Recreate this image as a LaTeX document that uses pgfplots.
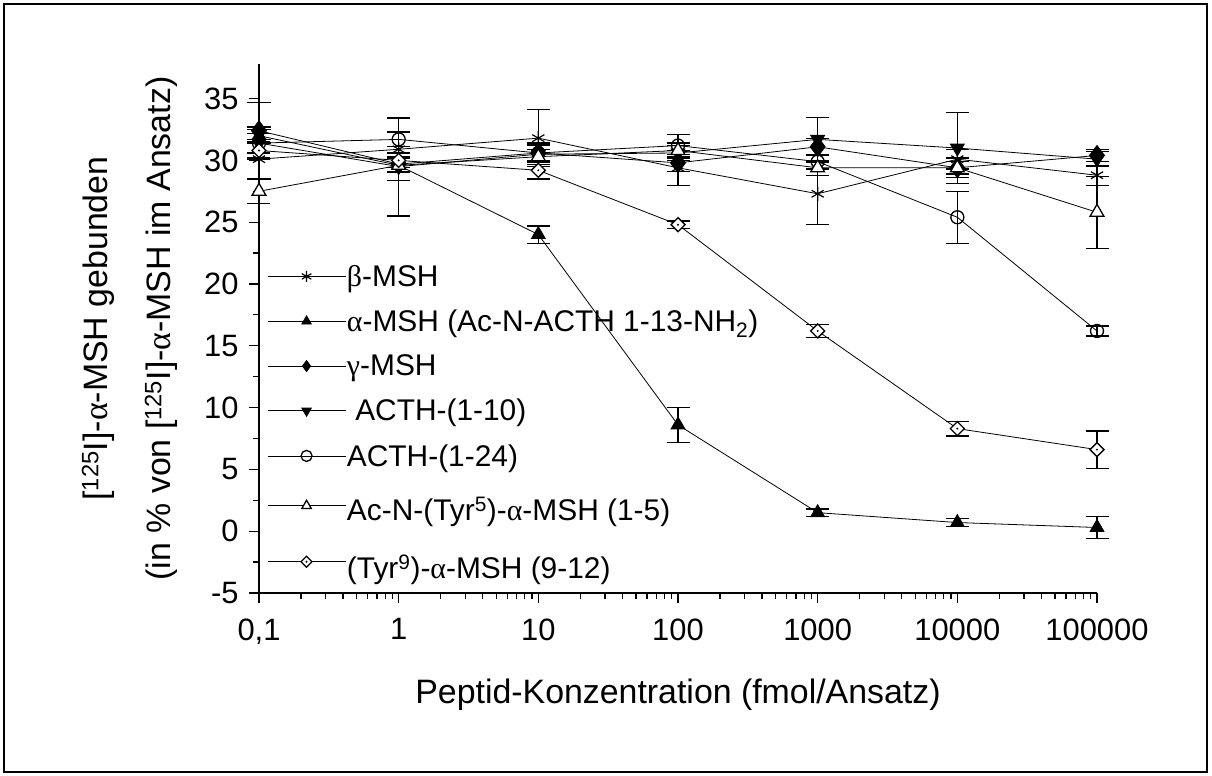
\documentclass[border=0pt]{standalone}
\usepackage{fontspec}
\setmainfont{Liberation Sans}
\newfontfamily\gr{Liberation Serif}
\usepackage{pgfplots}
\pgfplotsset{compat=1.18}
\pgfdeclareplotmark{ddia}{%
  \pgfpathmoveto{\pgfqpoint{0pt}{\pgfplotmarksize}}%
  \pgfpathlineto{\pgfqpoint{\pgfplotmarksize}{0pt}}%
  \pgfpathlineto{\pgfqpoint{0pt}{-\pgfplotmarksize}}%
  \pgfpathlineto{\pgfqpoint{-\pgfplotmarksize}{0pt}}%
  \pgfpathclose\pgfusepathqfillstroke
  \begin{pgfscope}%
  \pgfsetfillcolor{black}%
  \pgfpathcircle{\pgfpointorigin}{1.1pt}\pgfusepathqfill
  \end{pgfscope}}
\newcommand{\al}{{\gr α}}
\begin{document}
\begin{tikzpicture}
\useasboundingbox (0,0) rectangle (1212bp,776bp);
\draw[line width=1.5bp] (4bp,4bp) rectangle (1207bp,772bp);
\begin{axis}[
  at={(259bp,183bp)}, anchor=south west,
  scale only axis, width=838bp, height=529bp,
  xmode=log, xmin=0.1, xmax=100000,
  ymin=-5, ymax=37.8,
  axis x line*=bottom, axis y line*=left,
  axis line style={line width=1.6bp},
  tick align=outside,
  major tick length=10bp, minor tick length=6bp,
  every tick/.style={line width=1.2bp, black},
  xtick={0.1,1,10,100,1000,10000,100000},
  xticklabels={{0,1},1,10,100,1000,10000,100000},
  ytick={-5,0,5,10,15,20,25,30,35},
  yticklabels={-5,0,5,10,15,20,25,30,35},
  minor y tick num=1,
  ticklabel style={font=\fontsize{31}{35}\selectfont},
  xticklabel style={yshift=-12bp},
  yticklabel style={xshift=-7bp},
  label style={font=\fontsize{34}{63}\selectfont},
  xlabel={Peptid-Konzentration (fmol/Ansatz)},
  ylabel={[\textsuperscript{125}I]-\al-MSH gebunden\\(in \% von [\textsuperscript{125}I]-\al-MSH im Ansatz)},
  ylabel style={align=center, yshift=20bp},
  xlabel style={yshift=-28bp},
  clip=false,
  every axis plot/.append style={black, line width=0.8bp, mark size=8bp,
     error bars/y dir=both, error bars/y explicit,
     error bars/error bar style={line width=1.2bp},
     error bars/error mark options={rotate=90, mark size=11.5bp, line width=1.2bp}},
  legend style={draw=none, fill=none, at={(0.0095,0.622)}, anchor=north west,
     font=\fontsize{30}{34}\selectfont, row sep=20bp, inner sep=0pt,
     nodes={inner sep=1bp}},
  legend cell align=left,
  legend image code/.code={\draw[mark repeat=2,mark phase=2,mark size=5.5bp] plot coordinates {(0bp,0bp) (39bp,0bp) (78bp,0bp)};},
]
\addplot[mark=asterisk, mark size=7bp, mark options={line width=1.2bp}] coordinates {
 (0.1,30.1) +- (0,1.6) (1,30.9) +- (0,2.5) (10,31.8) +- (0,2.3) (100,29.4) +- (0,1.4)
 (1000,27.3) +- (0,2.5) (10000,30.1) +- (0,0.8) (100000,28.8) +- (0,0.8)};
\addlegendentry{{\gr β}-MSH}
\addplot[mark=triangle*, mark options={fill=black}] coordinates {
 (0.1,32.0) +- (0,0.5) (1,29.6) +- (0,0.6) (10,24.0) +- (0,0.7) (100,8.6) +- (0,1.4)
 (1000,1.5) +- (0,0.3) (10000,0.7) +- (0,0.3) (100000,0.3) +- (0,0.9)};
\addlegendentry{\al-MSH (Ac-N-ACTH 1-13-NH\textsubscript{2})}
\addplot[mark=diamond*, mark size=10bp, mark options={fill=black}] coordinates {
 (0.1,32.4) +- (0,2.3) (1,29.7) +- (0,0.6) (10,30.6) +- (0,0.8) (100,29.8) +- (0,0.7)
 (1000,31.1) +- (0,0.7) (10000,29.4) +- (0,0.8) (100000,30.4) +- (0,0.5)};
\addlegendentry{{\gr γ}-MSH}
\addplot[mark=triangle*, mark options={fill=black, rotate=180}] coordinates {
 (0.1,31.4) +- (0,1.3) (1,29.5) +- (0,4.0) (10,30.5) +- (0,0.8) (100,30.6) +- (0,0.6)
 (1000,31.7) +- (0,1.8) (10000,31.0) +- (0,2.9) (100000,30.1) +- (0,0.6)};
\addlegendentry{\ ACTH-(1-10)}
\addplot[mark=o, mark size=6.5bp, mark options={fill=white, line width=1.3bp}] coordinates {
 (0.1,31.4) +- (0,0.8) (1,31.7) +- (0,0.6) (10,30.6) +- (0,0.6) (100,31.2) +- (0,0.9)
 (1000,29.9) +- (0,0.6) (10000,25.4) +- (0,2.1) (100000,16.2) +- (0,0.4)};
\addlegendentry{ACTH-(1-24)}
\addplot[mark=triangle*, mark options={fill=white, line width=1.3bp}] coordinates {
 (0.1,27.5) +- (0,1.0) (1,29.6) +- (0,0.6) (10,30.3) +- (0,0.6) (100,30.8) +- (0,0.6)
 (1000,29.4) +- (0,0.6) (10000,29.4) +- (0,0.5) (100000,25.8) +- (0,2.9)};
\addlegendentry{\rule{0pt}{31bp}Ac-N-(Tyr\textsuperscript{5})-\al-MSH (1-5)}
\addplot[mark=ddia, mark size=7bp, mark options={fill=white, line width=1.3bp}] coordinates {
 (0.1,30.8) +- (0,0.6) (1,30.0) +- (0,0.6) (10,29.2) +- (0,0.7) (100,24.8) +- (0,0.3)
 (1000,16.2) +- (0,0.5) (10000,8.3) +- (0,0.6) (100000,6.6) +- (0,1.5)};
\addlegendentry{\rule{0pt}{34bp}(Tyr\textsuperscript{9})-\al-MSH (9-12)}
\end{axis}
\end{tikzpicture}
\end{document}
